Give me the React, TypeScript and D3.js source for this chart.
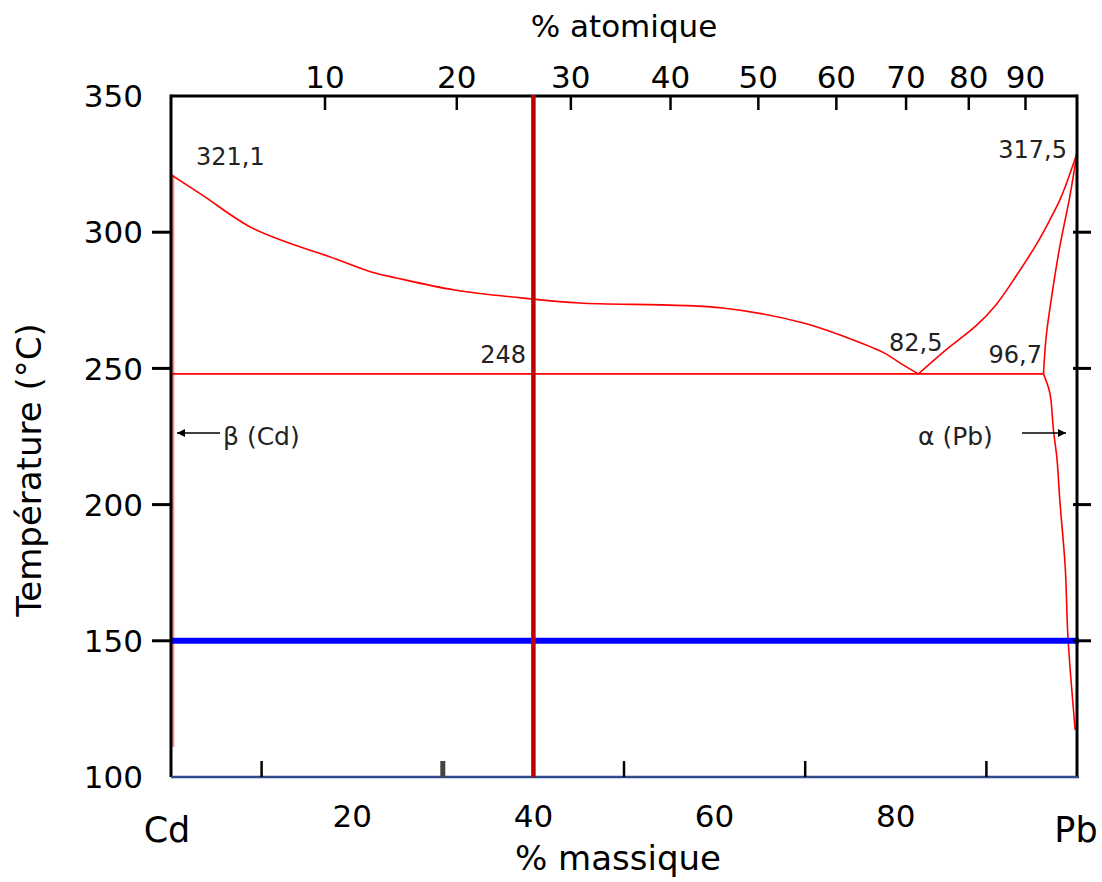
import React from "react";
import * as d3 from "d3";

// ---- data (mass % Pb, temperature °C) ----
const liquidusLeft: [number, number][] = [
  [0, 321.1], [3.5, 313.5], [8.7, 302.0], [13.1, 295.9], [17.5, 291.0], [22.0, 285.5],
  [24.9, 283.2], [31.3, 278.8], [39.8, 275.5], [45.1, 274.0], [60.9, 272.2],
  [69.8, 266.7], [74.7, 261.2], [78.7, 255.7], [80.7, 251.5], [82.5, 248],
];
const liquidusRight: [number, number][] = [
  [82.5, 248], [85.6, 257.0], [88.9, 265.8], [91.1, 273.5], [93.3, 284.0],
  [95.6, 296.0], [97.0, 304.5], [98.1, 311.8], [98.7, 316.7], [100, 329.0],
];
const solidusRight: [number, number][] = [
  [100, 329.0], [99.2, 313.0], [98.1, 294.7], [97.2, 276.3], [96.6, 261.7], [96.3, 248],
];
const solvusRight: [number, number][] = [
  [96.3, 248], [97.0, 241.0], [97.4, 227.4], [97.8, 216.4], [98.1, 201.7],
  [98.7, 177.1], [99.0, 151.4], [99.8, 117.3],
];
const solvusLeft: [number, number][] = [[0.2, 321.1], [0.2, 111]];
const eutecticLine: [number, number][] = [[0, 248], [96.3, 248]];
const tempLine = 150;
const compositionLine = 40;
const massTickLabels = [20, 40, 60, 80];
const massTickMarks = [10, 30, 50, 70, 90];
const atomicTicks = [10, 20, 30, 40, 50, 60, 70, 80, 90];
const tempTicks = [350, 300, 250, 200, 150, 100];
const tempInnerTicks = [300, 250, 200, 150];
const M_CD = 112.41;
const M_PB = 207.2;

const font = "'DejaVu Sans', Verdana, sans-serif";

export default function App() {
  const W = 1102, H = 882;
  const x = d3.scaleLinear().domain([0, 100]).range([171, 1077]);
  const y = d3.scaleLinear().domain([100, 350]).range([777, 96]);
  const atomicToMass = (a: number) => (100 * a * M_PB) / (a * M_PB + (100 - a) * M_CD);
  const line = d3.line<[number, number]>().x(d => x(d[0])).y(d => y(d[1]));
  const smooth = d3.line<[number, number]>().x(d => x(d[0])).y(d => y(d[1])).curve(d3.curveCatmullRom.alpha(0.5));
  const red = "#ff0000";
  const x0 = x(0), x1 = x(100), yT = y(350), yB = y(100);

  return (
    <svg width={W} height={H} style={{ position: "absolute", left: 0, top: 0, background: "#fff" }}
      fontFamily={font}>
      <defs>
        <marker id="ah" viewBox="0 0 10 10" refX="10" refY="5" markerWidth="8" markerHeight="8"
          markerUnits="userSpaceOnUse" orient="auto">
          <path d="M0,0 L10,5 L0,10 z" fill="#000" />
        </marker>
      </defs>
      <rect x={0} y={0} width={W} height={H} fill="#fff" />

      {/* left solvus, partly under the axis */}
      <path d={line(solvusLeft)!} stroke="#ff8c8c" strokeWidth={3} fill="none" />

      {/* phase boundaries */}
      <path d={smooth(liquidusLeft)!} stroke={red} strokeWidth={1.6} fill="none" />
      <path d={smooth(liquidusRight)!} stroke={red} strokeWidth={1.6} fill="none" />
      <path d={smooth(solidusRight)!} stroke={red} strokeWidth={1.6} fill="none" />
      <path d={smooth(solvusRight)!} stroke={red} strokeWidth={1.6} fill="none" />
      <path d={line(eutecticLine)!} stroke={red} strokeWidth={1.6} fill="none" />

      {/* blue isotherm */}
      <line x1={x0} x2={x1 + 2} y1={y(tempLine)} y2={y(tempLine)} stroke="#0000ff" strokeWidth={6} />

      {/* frame */}
      <line x1={x0} x2={x0} y1={yT - 1.5} y2={yB} stroke="#000" strokeWidth={3} />
      <line x1={x1} x2={x1} y1={yT - 1.5} y2={yB} stroke="#000" strokeWidth={3} />
      <line x1={x0} x2={x1} y1={yT} y2={yT} stroke="#000" strokeWidth={3} />
      <line x1={x0} x2={x1 + 2} y1={yB} y2={yB} stroke="#2e4a8b" strokeWidth={2.5} />

      {/* left/right ticks */}
      {tempInnerTicks.map(t => (
        <g key={"lt" + t}>
          <line x1={x0 - 19} x2={x0} y1={y(t)} y2={y(t)} stroke="#000" strokeWidth={3} />
          <line x1={x1 - 4} x2={x1 + 14} y1={y(t)} y2={y(t)} stroke="#000" strokeWidth={3} />
        </g>
      ))}
      {tempTicks.map(t => (
        <text key={"tl" + t} x={143} y={y(t)} dy="0.36em" textAnchor="end" fontSize={31} fill="#000">{t}</text>
      ))}

      {/* bottom ticks */}
      {massTickMarks.map(m => (
        <line key={"bm" + m} x1={x(m)} x2={x(m)} y1={yB} y2={yB - 16}
          stroke={m === 30 ? "#444" : "#000"} strokeWidth={m === 30 ? 5 : 2.5} />
      ))}
      {massTickLabels.map(m => (
        <text key={"bl" + m} x={x(m)} y={827} textAnchor="middle" fontSize={31} fill="#000">{m}</text>
      ))}
      <text x={167} y={842} textAnchor="middle" fontSize={35} fill="#000">Cd</text>
      <text x={1076} y={842} textAnchor="middle" fontSize={35} fill="#000">Pb</text>
      <text x={618} y={870} textAnchor="middle" fontSize={34} fill="#000">% massique</text>

      {/* top atomic axis */}
      {atomicTicks.map(a => (
        <g key={"at" + a}>
          <line x1={x(atomicToMass(a))} x2={x(atomicToMass(a))} y1={yT} y2={yT + 14} stroke="#000" strokeWidth={2.5} />
          <text x={x(atomicToMass(a))} y={88} textAnchor="middle" fontSize={31} fill="#000">{a}</text>
        </g>
      ))}
      <text x={624} y={37} textAnchor="middle" fontSize={31} fill="#000">% atomique</text>

      {/* y label */}
      <text transform="translate(41,470) rotate(-90)" textAnchor="middle" fontSize={34} fill="#000">Température (°C)</text>

      {/* annotations */}
      <text x={196} y={165} fontSize={24} fill="#222">321,1</text>
      <text x={1067} y={158} textAnchor="end" fontSize={24} fill="#222">317,5</text>
      <text x={526} y={363} textAnchor="end" fontSize={24} fill="#222">248</text>
      <text x={889} y={351} fontSize={24} fill="#222">82,5</text>
      <text x={1042} y={363} textAnchor="end" fontSize={24} fill="#222">96,7</text>
      <text x={223} y={445} fontSize={25} fill="#222">β (Cd)</text>
      <text x={918} y={445} fontSize={25} fill="#222">α (Pb)</text>
      <line x1={220} x2={177} y1={433} y2={433} stroke="#000" strokeWidth={1.5} markerEnd="url(#ah)" />
      <line x1={1022} x2={1066} y1={433} y2={433} stroke="#000" strokeWidth={1.5} markerEnd="url(#ah)" />

      {/* composition line */}
      <line x1={x(compositionLine)} x2={x(compositionLine)} y1={yT - 1} y2={yB} stroke="#c00000" strokeWidth={4.5} />
    </svg>
  );
}
